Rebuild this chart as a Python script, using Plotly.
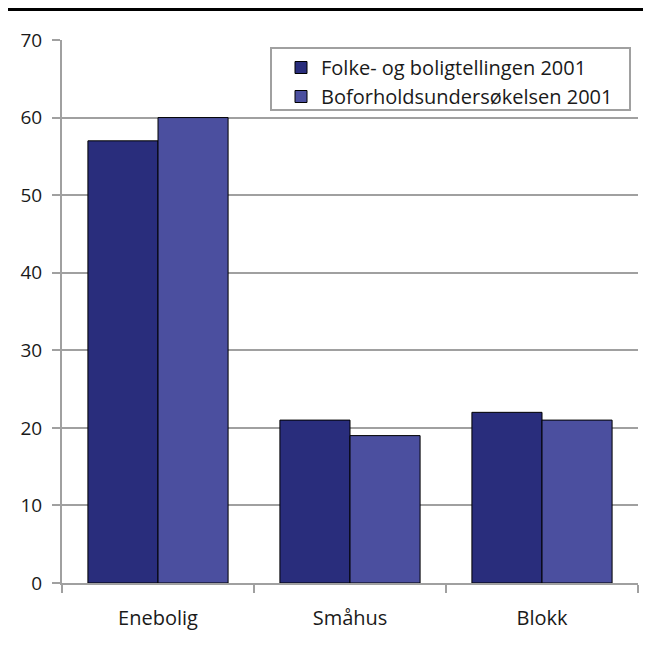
import plotly.graph_objects as go

# data
categories = ["Enebolig", "Småhus", "Blokk"]
folke_bolig = [57, 21, 22]
boforhold = [60, 19, 21]
series_names = ["Folke- og boligtellingen 2001", "Boforholdsundersøkelsen 2001"]
y_ticks = [0, 10, 20, 30, 40, 50, 60, 70]

# page body has an 8px margin, so the figure is sized/shifted to compensate
W, H = 643, 640
ML, MR, MT, MB = 54, 13, 32, 65
pw, ph = W - ML - MR, H - MT - MB

fig = go.Figure()
fig.add_trace(go.Bar(x=categories, y=folke_bolig, name=series_names[0],
                     marker=dict(color="#292d7c", line=dict(color="black", width=1))))
fig.add_trace(go.Bar(x=categories, y=boforhold, name=series_names[1],
                     marker=dict(color="#4b4f9f", line=dict(color="black", width=1))))

grey = "#a0a0a0"
fig.update_layout(
    width=W, height=H,
    margin=dict(l=ML, r=MR, t=MT, b=MB),
    paper_bgcolor="white", plot_bgcolor="white",
    font=dict(family="Open Sans", size=19, color="#1a1a1a"),
    barmode="group", bargap=0.27, bargroupgap=0,
    legend=dict(x=(273 - ML) / pw, y=1 - (40 - MT) / ph, xanchor="left", yanchor="top",
                bgcolor="rgba(0,0,0,0)", borderwidth=0, font=dict(size=20),
                tracegroupgap=0),
    showlegend=True,
)
fig.update_xaxes(type="category", tickson="boundaries", ticks="outside", ticklen=8,
                 tickwidth=2, tickcolor=grey, showline=True, linecolor=grey, linewidth=2,
                 showgrid=False, tickfont=dict(size=20), ticklabelstandoff=16,
                 range=[-0.5, 2.5])
fig.update_yaxes(range=[0, 70], tickvals=y_ticks, ticks="outside", ticklen=8, tickwidth=2,
                 tickcolor=grey, showline=True, linecolor=grey, linewidth=2,
                 showgrid=True, gridcolor=grey, gridwidth=2, zeroline=False,
                 tickfont=dict(size=19), ticklabelstandoff=6)

# legend frame
fig.add_shape(type="rect", xref="paper", yref="paper",
              x0=(263 - ML) / pw, x1=(622 - ML) / pw,
              y0=1 - (102 - MT) / ph, y1=1 - (40 - MT) / ph,
              line=dict(color=grey, width=2), fillcolor="white", layer="above")
# black rule along the top
fig.add_shape(type="line", xref="paper", yref="paper",
              x0=-ML / pw, x1=1 + MR / pw, y0=1 + (MT - 1.5) / ph, y1=1 + (MT - 1.5) / ph,
              line=dict(color="black", width=3))

fig.write_html("out.html")
